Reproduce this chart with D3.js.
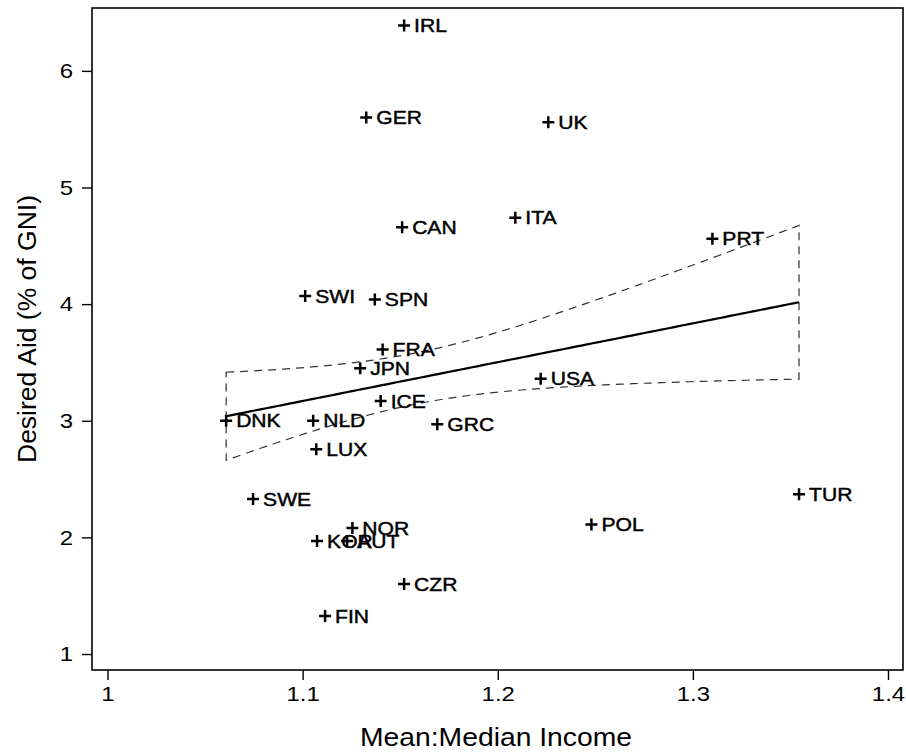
<!DOCTYPE html>
<html><head><meta charset="utf-8">
<script src="https://cdn.jsdelivr.net/npm/d3@7"></script>
<style>body{margin:0;background:#fff}svg{display:block;font-family:"Liberation Sans",Arial,sans-serif}</style>
</head><body><svg id="c" width="906" height="754"></svg>
<script>
const countries = ["IRL","GER","UK","CAN","ITA","PRT","SWI","SPN","FRA","JPN","USA","ICE","DNK","NLD","GRC","LUX","SWE","TUR","NOR","POL","KOR","AUT","CZR","FIN"];
const meanMedian = [1.152,1.1326,1.2259,1.151,1.209,1.310,1.1013,1.137,1.141,1.1295,1.222,1.140,1.0608,1.1054,1.169,1.107,1.0746,1.3544,1.1255,1.248,1.1074,1.1228,1.152,1.1115];
const desiredAid = [6.39,5.60,5.56,4.66,4.74,4.56,4.07,4.04,3.61,3.45,3.36,3.17,3.00,3.00,2.97,2.755,2.33,2.37,2.08,2.11,1.97,1.97,1.60,1.325];
const xTicks = [1,1.1,1.2,1.3,1.4];
const yTicks = [1,2,3,4,5,6];
const ciSeScale = 0.38;

const W=906,H=754, m={l:92,t:8,r:3,b:84};
const svg=d3.select("#c");
const x=d3.scaleLinear().domain([0.99205,1.40769]).range([m.l,W-m.r]);
const y=d3.scaleLinear().domain([0.863,6.539]).range([H-m.b,m.t]);
const K=1.14;
function stretch(sel){sel.each(function(){const w=this.getComputedTextLength();d3.select(this).attr("textLength",w*K).attr("lengthAdjust","spacingAndGlyphs");});}

svg.append("rect").attr("x",m.l).attr("y",m.t).attr("width",W-m.r-m.l).attr("height",H-m.b-m.t)
  .attr("fill","none").attr("stroke","#000").attr("stroke-width",1.6);

const xa=svg.append("g").attr("transform",`translate(0,${H-m.b})`)
  .call(d3.axisBottom(x).tickValues(xTicks).tickSize(10).tickPadding(6).tickFormat(d3.format("~g")));
const ya=svg.append("g").attr("transform",`translate(${m.l},0)`)
  .call(d3.axisLeft(y).tickValues(yTicks).tickSize(10).tickPadding(9).tickFormat(d3.format("~g")));
[xa,ya].forEach(a=>{a.select(".domain").remove();a.selectAll("line").attr("stroke","#000").attr("stroke-width",1.4);
  a.selectAll("text").attr("font-size",21).attr("fill","#000").attr("font-family","Liberation Sans, Arial, sans-serif").call(stretch);});

const n=meanMedian.length;
const mx=d3.mean(meanMedian), my=d3.mean(desiredAid);
let sxx=0,sxy=0; for(let i=0;i<n;i++){sxx+=(meanMedian[i]-mx)**2;sxy+=(meanMedian[i]-mx)*(desiredAid[i]-my);}
const b=sxy/sxx, a0=my-b*mx;
let sse=0; for(let i=0;i<n;i++){sse+=(desiredAid[i]-a0-b*meanMedian[i])**2;}
const s=Math.sqrt(sse/(n-2))*ciSeScale, tcrit=2.074;
const xmin=d3.min(meanMedian), xmax=d3.max(meanMedian);
const grid=d3.range(0,101).map(k=>xmin+(xmax-xmin)*k/100);
const fit=grid.map(g=>{const yh=a0+b*g, se=s*Math.sqrt(1/n+(g-mx)**2/sxx);return {x:g,y:yh,lo:yh-tcrit*se,hi:yh+tcrit*se};});
const band=[...fit.map(d=>[d.x,d.hi]),...fit.slice().reverse().map(d=>[d.x,d.lo])];
svg.append("path").attr("d",d3.line().x(d=>x(d[0])).y(d=>y(d[1]))(band)+"Z")
  .attr("fill","none").attr("stroke","#333").attr("stroke-width",1.2).attr("stroke-dasharray","8,6");
svg.append("path").attr("d",d3.line().x(d=>x(d.x)).y(d=>y(d.y))(fit))
  .attr("fill","none").attr("stroke","#000").attr("stroke-width",2.2);

const pts=svg.append("g");
countries.forEach((c,i)=>{
  const px=x(meanMedian[i]), py=y(desiredAid[i]);
  pts.append("path").attr("d",`M${px-6},${py}H${px+6}M${px},${py-6}V${py+6}`).attr("stroke","#000").attr("stroke-width",2.5);
  pts.append("text").attr("x",px+10).attr("y",py).attr("dy","0.36em").attr("font-size",18.5)
    .attr("fill","#000").attr("stroke","#000").attr("stroke-width",0.45).text(c);
});
pts.selectAll("text").call(stretch);

svg.append("text").attr("x",496).attr("y",746).attr("text-anchor","middle").attr("font-size",25)
  .attr("textLength",272).attr("lengthAdjust","spacingAndGlyphs").text("Mean:Median Income");
svg.append("text").attr("transform",`translate(36,329) rotate(-90)`).attr("text-anchor","middle").attr("font-size",25)
  .attr("textLength",268).attr("lengthAdjust","spacingAndGlyphs").text("Desired Aid (% of GNI)");
</script></body></html>
